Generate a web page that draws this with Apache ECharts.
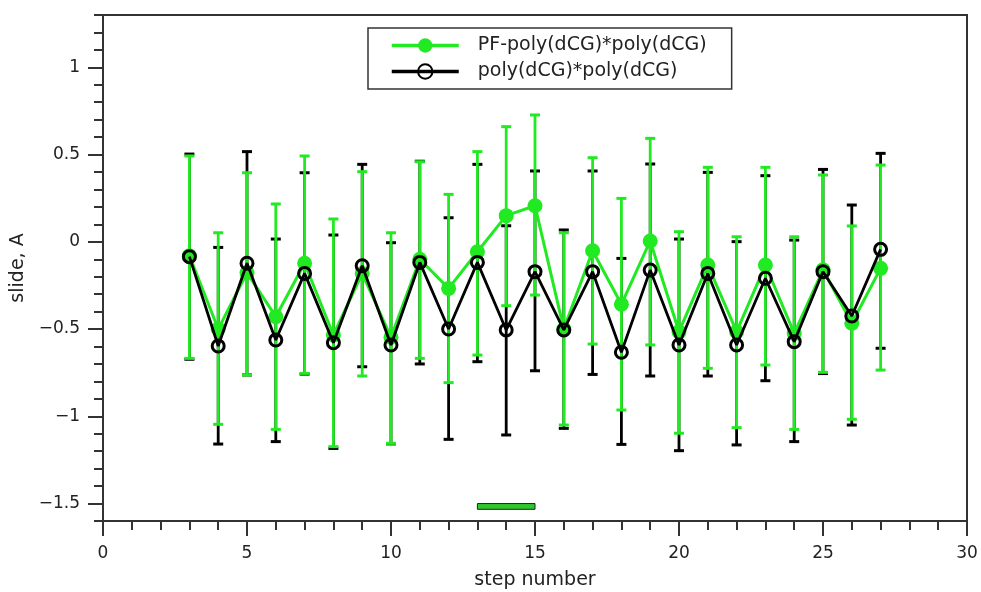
<!DOCTYPE html>
<html><head><meta charset="utf-8">
<script src="https://cdn.jsdelivr.net/npm/echarts@6/dist/echarts.min.js"></script>
<style>html,body{margin:0;padding:0;background:#fff}#c{width:981px;height:592px}</style>
</head><body><div id="c"></div>
<script>
const steps   = [3,4,5,6,7,8,9,10,11,12,13,14,15,16,17,18,19,20,21,22,23,24,25,26,27];
const pfMean  = [-0.08,-0.50,-0.177,-0.429,-0.123,-0.534,-0.181,-0.547,-0.10,-0.267,-0.057,0.15,0.207,-0.50,-0.051,-0.358,0.005,-0.515,-0.133,-0.515,-0.133,-0.525,-0.16,-0.467,-0.152];
const pfLow   = [-0.668,-1.046,-0.763,-1.075,-0.754,-1.174,-0.769,-1.155,-0.668,-0.807,-0.649,-0.366,-0.305,-1.05,-0.586,-0.964,-0.591,-1.097,-0.725,-1.065,-0.706,-1.075,-0.748,-1.017,-0.735];
const pfHigh  = [0.492,0.052,0.396,0.217,0.492,0.131,0.402,0.052,0.459,0.272,0.517,0.66,0.727,0.052,0.482,0.249,0.593,0.058,0.427,0.029,0.427,0.029,0.383,0.091,0.44];
const refMean = [-0.085,-0.597,-0.123,-0.563,-0.181,-0.578,-0.137,-0.591,-0.118,-0.50,-0.118,-0.505,-0.171,-0.505,-0.171,-0.633,-0.162,-0.591,-0.181,-0.591,-0.209,-0.572,-0.171,-0.425,-0.043];
const refLow  = [-0.673,-1.159,-0.763,-1.145,-0.758,-1.184,-0.716,-1.158,-0.70,-1.132,-0.687,-1.107,-0.739,-1.069,-0.76,-1.161,-0.769,-1.197,-0.769,-1.164,-0.796,-1.145,-0.755,-1.05,-0.61];
const refHigh = [0.503,-0.032,0.517,0.016,0.396,0.039,0.444,-0.005,0.462,0.138,0.444,0.092,0.406,0.068,0.406,-0.095,0.446,0.016,0.398,0.001,0.379,0.01,0.415,0.211,0.507];
const seriesNames = ['PF-poly(dCG)*poly(dCG)','poly(dCG)*poly(dCG)'];
const xTicks = [0,5,10,15,20,25,30];
const yTicks = [-1.5,-1,-0.5,0,0.5,1];
const yMinorTicks = [-1.6,-1.5,-1.4,-1.3,-1.2,-1.1,-1.0,-0.9,-0.8,-0.7,-0.6,-0.5,-0.4,-0.3,-0.2,-0.1,0,0.1,0.2,0.3,0.4,0.5,0.6,0.7,0.8,0.9,1.0,1.1,1.2,1.3];
const barX = [13,15];
const barY = [-1.5,-1.533];

const GREEN = '#22ea22', BLACK = '#000';
const FONT = 'DejaVu Sans';
const fmt = v => String(Math.round(v*10)/10).replace('-', '\u2212');

function errRender(color){
  return function(params, api){
    const x = api.value(0), lo = api.value(1), hi = api.value(2);
    const a = api.coord([x, hi]), b = api.coord([x, lo]);
    const w = 5;
    return {type:'group', children:[
      {type:'line', shape:{x1:a[0],y1:a[1],x2:b[0],y2:b[1]}, style:{stroke:color,lineWidth:2.8}},
      {type:'line', shape:{x1:a[0]-w,y1:a[1],x2:a[0]+w,y2:a[1]}, style:{stroke:color,lineWidth:3}},
      {type:'line', shape:{x1:b[0]-w,y1:b[1],x2:b[0]+w,y2:b[1]}, style:{stroke:color,lineWidth:3}}
    ]};
  };
}

const chart = echarts.init(document.getElementById('c'), null, {renderer:'canvas'});
chart.setOption({
  animation:false,
  backgroundColor:'#fff',
  textStyle:{fontFamily:FONT},
  grid:{left:103, right:14, top:15, bottom:71, show:true, borderColor:'#333', borderWidth:2,
        backgroundColor:'transparent', containLabel:false, outerBoundsMode:'none'},
  legend:{
    data:seriesNames, orient:'vertical', left:368, top:28,
    itemWidth:67, itemHeight:18, itemGap:7,
    padding:[8,25,8,22], borderColor:'#333', borderWidth:1.5,
    lineStyle:{width:3.5},
    textStyle:{fontSize:19, lineHeight:18, color:'#222', fontFamily:FONT, padding:[0,0,0,14]}
  },
  xAxis:{
    type:'value', min:xTicks[0], max:xTicks[xTicks.length-1], interval:5,
    name:'step number', nameLocation:'middle', nameGap:50,
    nameTextStyle:{fontSize:19, color:'#222', fontFamily:FONT},
    axisLine:{show:true, onZero:false, lineStyle:{color:'#333', width:2}},
    axisTick:{show:true, inside:false, length:15, lineStyle:{color:'#333', width:2}},
    minorTick:{show:true, splitNumber:5, length:9, lineStyle:{color:'#333', width:2}},
    axisLabel:{fontSize:17, color:'#222', margin:24, fontFamily:FONT},
    splitLine:{show:false}
  },
  yAxis:[{
    type:'value', min:yMinorTicks[0], max:yMinorTicks[yMinorTicks.length-1],
    name:'slide, A', nameLocation:'middle', nameGap:66,
    nameTextStyle:{fontSize:19, color:'#222', fontFamily:FONT},
    axisLine:{show:true, onZero:false, lineStyle:{color:'#333', width:2}},
    axisTick:{show:true, inside:false, length:15, customValues:yTicks, lineStyle:{color:'#333', width:2}},
    axisLabel:{fontSize:17, color:'#222', margin:23, customValues:yTicks, formatter:fmt, fontFamily:FONT},
    splitLine:{show:false}
  },{
    type:'value', min:yMinorTicks[0], max:yMinorTicks[yMinorTicks.length-1], position:'left',
    axisLine:{show:false},
    axisTick:{show:true, inside:false, length:9, customValues:yMinorTicks, lineStyle:{color:'#333', width:2}},
    axisLabel:{show:false}, splitLine:{show:false}
  }],
  series:[
    {type:'custom', name:'refErr', z:2, renderItem:errRender(BLACK), encode:{x:0, y:[1,2]},
     data: steps.map((s,i)=>[s, refLow[i], refHigh[i]]), silent:true},
    {type:'custom', name:'pfErr', z:3, renderItem:errRender(GREEN), encode:{x:0, y:[1,2]},
     data: steps.map((s,i)=>[s, pfLow[i], pfHigh[i]]), silent:true},
    {type:'line', name:seriesNames[0], z:4, data: steps.map((s,i)=>[s, pfMean[i]]),
     symbol:'circle', symbolSize:15, lineStyle:{color:GREEN, width:3},
     itemStyle:{color:GREEN, borderWidth:0}},
    {type:'line', name:seriesNames[1], z:5, data: steps.map((s,i)=>[s, refMean[i]]),
     symbol:'circle', symbolSize:12, lineStyle:{color:BLACK, width:2.8},
     itemStyle:{color:'rgba(255,255,255,0)', borderColor:BLACK, borderWidth:3}},
    {type:'custom', name:'bar', z:6, silent:true, encode:{x:[0,1], y:[2,3]},
     data:[[barX[0], barX[1], barY[0], barY[1]]],
     renderItem:function(params, api){
       const p0 = api.coord([api.value(0), api.value(2)]);
       const p1 = api.coord([api.value(1), api.value(3)]);
       return {type:'rect', shape:{x:p0[0], y:p0[1], width:p1[0]-p0[0], height:p1[1]-p0[1]},
               style:{fill:'#2ec82e', stroke:'#222', lineWidth:1}};
     }}
  ]
});
</script>
</body></html>
